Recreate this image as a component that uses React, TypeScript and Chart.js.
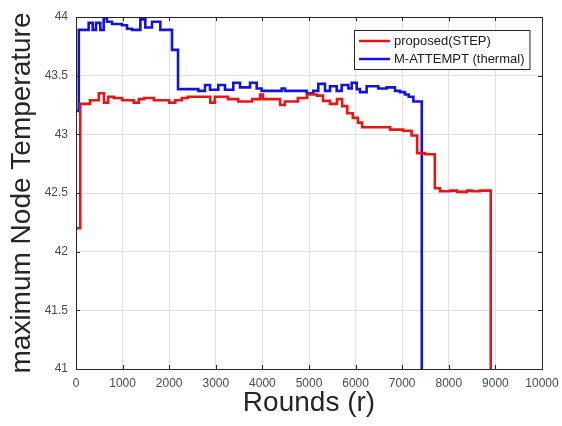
import React, { useEffect, useRef } from "react";
import { Chart, registerables } from "chart.js";
Chart.register(...registerables);

const seriesLabels = ["proposed(STEP)", "M-ATTEMPT (thermal)"];

const redRounds = [0, 90, 300, 490, 600, 690, 810, 990, 1240, 1350, 1460, 1670, 2000, 2130, 2270, 2400, 2880, 2980, 3260, 3480, 3780, 3950, 4010, 4380, 4480, 4760, 4960, 5170, 5300, 5450, 5600, 5710, 5820, 5940, 6050, 6140, 6740, 7020, 7200, 7320, 7490, 7700, 7810, 8030, 8180, 8390, 8500, 8670, 8900];
const redTemps = [42.2, 43.26, 43.29, 43.35, 43.27, 43.32, 43.31, 43.29, 43.27, 43.3, 43.31, 43.29, 43.27, 43.29, 43.31, 43.32, 43.27, 43.32, 43.3, 43.28, 43.3, 43.34, 43.3, 43.25, 43.28, 43.31, 43.34, 43.33, 43.285, 43.26, 43.3, 43.24, 43.18, 43.14, 43.1, 43.06, 43.04, 43.03, 42.99, 42.84, 42.83, 42.54, 42.515, 42.52, 42.51, 42.52, 42.515, 42.52, 41];

const blueRounds = [0, 60, 272, 358, 429, 522, 594, 665, 773, 987, 1094, 1202, 1381, 1488, 1631, 1810, 2060, 2189, 2625, 2768, 2876, 3054, 3197, 3376, 3519, 3734, 3877, 3984, 4413, 4485, 4950, 5093, 5200, 5343, 5451, 5594, 5701, 5844, 5916, 6023, 6094, 6237, 6487, 6666, 6845, 6953, 7060, 7140, 7240, 7420];
const blueTemps = [43.2, 43.89, 43.95, 43.89, 43.95, 43.89, 43.99, 43.96, 43.94, 43.93, 43.9, 43.89, 43.98, 43.91, 43.96, 43.89, 43.72, 43.385, 43.37, 43.42, 43.38, 43.42, 43.38, 43.44, 43.4, 43.44, 43.39, 43.37, 43.39, 43.37, 43.35, 43.37, 43.43, 43.37, 43.41, 43.37, 43.42, 43.39, 43.44, 43.385, 43.36, 43.41, 43.39, 43.4, 43.37, 43.36, 43.34, 43.32, 43.28, 41];

const xTickValues = [0, 1000, 2000, 3000, 4000, 5000, 6000, 7000, 8000, 9000, 10000];
const yTickValues = [41, 41.5, 42, 42.5, 43, 43.5, 44];

const FONT = "'Liberation Sans', Arial, Helvetica, sans-serif";

const framePlugin = {
  id: "frame",
  afterDatasetsDraw(chart: any) {
    const { ctx, chartArea: a, scales } = chart;
    ctx.save();
    ctx.strokeStyle = "#262626";
    ctx.lineWidth = 1;
    const tl = 4;
    ctx.beginPath();
    for (const v of xTickValues) {
      const px = Math.round(scales.x.getPixelForValue(v)) + 0.5;
      ctx.moveTo(px, a.bottom);
      ctx.lineTo(px, a.bottom - tl);
      ctx.moveTo(px, a.top);
      ctx.lineTo(px, a.top + tl);
    }
    for (const v of yTickValues) {
      const py = Math.round(scales.y.getPixelForValue(v)) + 0.5;
      ctx.moveTo(a.left, py);
      ctx.lineTo(a.left + tl, py);
      ctx.moveTo(a.right, py);
      ctx.lineTo(a.right - tl, py);
    }
    ctx.stroke();
    ctx.strokeRect(Math.round(a.left) + 0.5, Math.round(a.top) + 0.5, Math.round(a.right - a.left), Math.round(a.bottom - a.top));
    ctx.restore();
  },
  afterDraw(chart: any) {
    const { ctx, chartArea: a } = chart;
    ctx.save();
    ctx.font = `13px ${FONT}`;
    const ds = chart.data.datasets;
    let maxW = 0;
    for (const d of ds) maxW = Math.max(maxW, ctx.measureText(d.label).width);
    const padL = 5, lineLen = 31, gap = 4, padR = 5, rowH = 18, padT = 2;
    const w = padL + lineLen + gap + maxW + padR;
    const h = padT * 2 + rowH * ds.length - 1;
    const x0 = Math.round(a.right - 13 - w);
    const y0 = Math.round(a.top + 13);
    ctx.fillStyle = "#ffffff";
    ctx.fillRect(x0, y0, w, h);
    ctx.strokeStyle = "#262626";
    ctx.lineWidth = 1;
    ctx.strokeRect(x0 + 0.5, y0 + 0.5, w, h);
    ds.forEach((d: any, i: number) => {
      const cy = y0 + padT + rowH * i + rowH / 2;
      ctx.strokeStyle = d.borderColor;
      ctx.lineWidth = 2.5;
      ctx.beginPath();
      ctx.moveTo(x0 + padL, cy);
      ctx.lineTo(x0 + padL + lineLen, cy);
      ctx.stroke();
      ctx.fillStyle = "#1a1a1a";
      ctx.textBaseline = "middle";
      ctx.textAlign = "left";
      ctx.fillText(d.label, x0 + padL + lineLen + gap, cy);
    });
    ctx.restore();
  },
};

export default function App() {
  const ref = useRef<HTMLCanvasElement>(null);
  useEffect(() => {
    document.body.style.margin = "0";
    const canvas = ref.current!;
    const chart = new Chart(canvas, {
      type: "line",
      data: {
        datasets: [
          {
            label: seriesLabels[0],
            data: redRounds.map((r, i) => ({ x: r, y: redTemps[i] })),
            borderColor: "#e81515",
            backgroundColor: "#e81515",
            borderWidth: 2.6,
            stepped: "before",
            pointRadius: 0,
            fill: false,
          },
          {
            label: seriesLabels[1],
            data: blueRounds.map((r, i) => ({ x: r, y: blueTemps[i] })),
            borderColor: "#1414d8",
            backgroundColor: "#1414d8",
            borderWidth: 2.6,
            stepped: "before",
            pointRadius: 0,
            fill: false,
          },
        ],
      },
      options: {
        responsive: false,
        animation: false,
        devicePixelRatio: 1,
        layout: { padding: { top: 17, right: 20, left: 0, bottom: 0 } },
        plugins: { legend: { display: false }, tooltip: { enabled: false } },
        scales: {
          x: {
            type: "linear",
            min: 0,
            max: 10000,
            afterBuildTicks: (s: any) => {
              s.ticks = xTickValues.map((v) => ({ value: v }));
            },
            afterFit: (s: any) => {
              s.height = 57;
              s.paddingLeft = 0;
              s.paddingRight = 0;
            },
            ticks: {
              callback: (v: any) => String(v),
              font: { family: FONT, size: 12 },
              color: "#4a4a4a",
              padding: 7,
              maxRotation: 0,
              autoSkip: false,
            },
            grid: { color: "#e0e0e0", drawTicks: false },
            border: { display: false },
            title: {
              display: true,
              text: "Rounds (r)",
              font: { family: FONT, size: 28 },
              color: "#262626",
              padding: { top: 0, bottom: 6 },
            },
          },
          y: {
            type: "linear",
            min: 41,
            max: 44,
            afterBuildTicks: (s: any) => {
              s.ticks = yTickValues.map((v) => ({ value: v }));
            },
            afterFit: (s: any) => {
              s.width = 76;
              s.paddingTop = 0;
              s.paddingBottom = 0;
            },
            ticks: {
              callback: (v: any) => String(v),
              font: { family: FONT, size: 12 },
              color: "#4a4a4a",
              padding: 8,
              autoSkip: false,
            },
            grid: { color: "#e0e0e0", drawTicks: false },
            border: { display: false },
            title: {
              display: true,
              text: "maximum Node Temperature",
              font: { family: FONT, size: 28 },
              color: "#262626",
              padding: { top: 5, bottom: 0 },
            },
          },
        },
      },
      plugins: [framePlugin],
    } as any);
    return () => chart.destroy();
  }, []);
  return (
    <div style={{ width: 562, height: 426 }}>
      <canvas ref={ref} width={562} height={426} style={{ display: "block" }} />
    </div>
  );
}
